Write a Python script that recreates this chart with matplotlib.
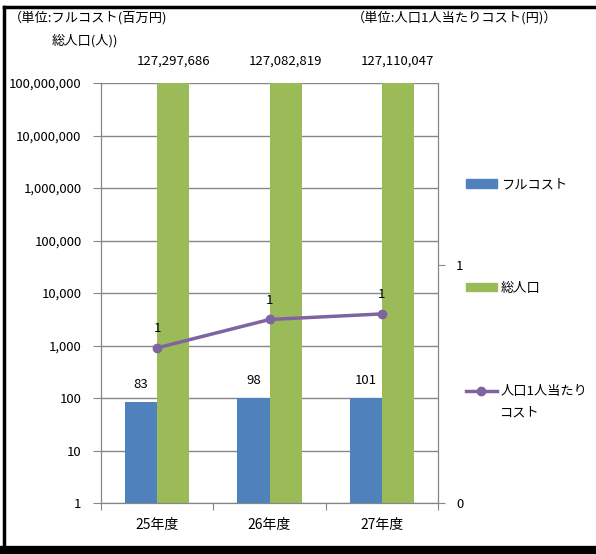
import matplotlib.pyplot as plt
from matplotlib.lines import Line2D
from matplotlib.patches import Patch
from matplotlib.ticker import FuncFormatter, FixedLocator

plt.rcParams["font.family"] = ["Noto Sans CJK JP", "DejaVu Sans"]

categories = ["25年度", "26年度", "27年度"]
full_cost = [83, 98, 101]  # 百万円
population = [127297686, 127082819, 127110047]  # 人
per_capita = [c * 1e6 / p for c, p in zip(full_cost, population)]  # 円

BLUE = "#4F81BD"
GREEN = "#9BBB59"
PURPLE = "#8064A2"
GRID = "#868686"
FS = 9.5

W, H = 596, 554
fig = plt.figure(figsize=(W / 100, H / 100), dpi=100)

# outer frame (right edge is cut off in the reference)
fig.add_artist(Line2D([4 / W, 4 / W], [1 - 7 / H, 0], color="black", lw=2.5, transform=fig.transFigure))
fig.add_artist(Line2D([4 / W, 1], [1 - 7 / H, 1 - 7 / H], color="black", lw=2.5, transform=fig.transFigure))
fig.add_artist(Line2D([4 / W, 1], [1 - 550 / H, 1 - 550 / H], color="black", lw=6, transform=fig.transFigure))

ax = fig.add_axes([101 / W, 1 - 503 / H, (438 - 101) / W, (503 - 83) / H])
ax.set_yscale("log")
ax.set_ylim(1, 1e8)
ax.set_xlim(-0.5, len(categories) - 0.5)

x = list(range(len(categories)))
bw = 0.285
ax.bar([i - bw / 2 for i in x], full_cost, width=bw, color=BLUE, zorder=2)
ax.bar([i + bw / 2 for i in x], population, width=bw, color=GREEN, zorder=2)

for i, v in zip(x, full_cost):
    ax.annotate(f"{v:,}", (i - bw / 2, v), xytext=(0, 8), textcoords="offset points",
                ha="center", va="bottom", fontsize=FS)
for i, v in zip(x, population):
    ax.annotate(f"{v:,}", (i + bw / 2, 1e8), xytext=(0, 16), textcoords="offset points",
                ha="center", va="center", fontsize=FS, annotation_clip=False)

ax.yaxis.set_major_locator(FixedLocator([10 ** k for k in range(9)]))
ax.yaxis.set_minor_locator(FixedLocator([]))
ax.yaxis.set_major_formatter(FuncFormatter(lambda v, _: f"{int(round(v)):,}"))
ax.grid(axis="y", color=GRID, lw=1, zorder=0)
ax.tick_params(axis="y", length=6, color=GRID, labelsize=FS, pad=8)

ax.set_xticks([i - 0.5 for i in range(len(categories) + 1)])
ax.set_xticklabels([])
ax.set_xticks(x, minor=True)
ax.set_xticklabels(categories, minor=True, fontsize=FS + 0.5)
ax.tick_params(axis="x", which="major", length=5, color=GRID)
ax.tick_params(axis="x", which="minor", length=0, pad=11)

for side in ["left", "bottom", "right"]:
    ax.spines[side].set_color(GRID)
ax.spines["top"].set_visible(False)

ax2 = ax.twinx()
ax2.set_ylim(0, 1.765)
ax2.set_yticks([0, 1])
ax2.tick_params(axis="y", length=5, color=GRID, labelsize=FS, pad=8)
for side in ["left", "bottom", "right"]:
    ax2.spines[side].set_color(GRID)
ax2.spines["top"].set_visible(False)
line, = ax2.plot(x, per_capita, color=PURPLE, lw=2.5, marker="o", ms=6, zorder=3)
for i, v in zip(x, per_capita):
    ax2.annotate(f"{v:.0f}", (i, v), xytext=(0, 9), textcoords="offset points",
                 ha="center", va="bottom", fontsize=FS)

fig.text(9 / W, 1 - 18 / H, "（単位:フルコスト(百万円)", fontsize=FS, va="center")
fig.text(52 / W, 1 - 41 / H, "総人口(人))", fontsize=FS, va="center")
fig.text(352 / W, 1 - 18 / H, "（単位:人口1人当たりコスト(円)）", fontsize=FS, va="center")

# legend: bar entries, then the line entry whose label wraps onto a second line
leg_kw = dict(frameon=False, fontsize=FS, handlelength=2.3, handletextpad=0.3,
              handleheight=0.6, borderaxespad=0)
fig.legend([Patch(color=BLUE), Patch(color=GREEN)], ["フルコスト", "総人口"],
           loc="upper left", bbox_to_anchor=(461 / W, 1 - 173 / H),
           labelspacing=6.85, **leg_kw)
fig.legend([line], ["人口1人当たり"], loc="center left",
           bbox_to_anchor=(461 / W, 1 - 392 / H), **leg_kw)
fig.text(500 / W, 1 - 413 / H, "コスト", fontsize=FS, va="center")

fig.savefig("out.png", dpi=100)
